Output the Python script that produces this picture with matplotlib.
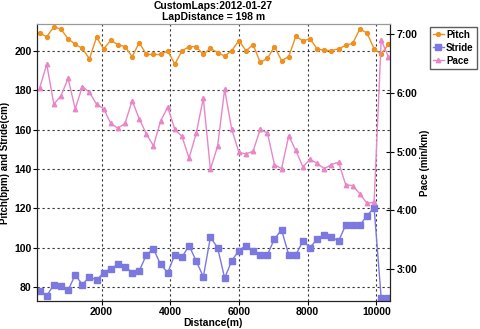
import matplotlib
matplotlib.use("Agg")
import matplotlib.pyplot as plt
from matplotlib.ticker import FuncFormatter

plt.rcParams['font.family'] = ['Liberation Sans', 'DejaVu Sans']

# lap end distances (m)
distance = [194, 401, 609, 816, 1023, 1231, 1438, 1645, 1852, 2060,
            2267, 2474, 2682, 2889, 3096, 3304, 3511, 3718, 3925, 4133,
            4340, 4547, 4755, 4962, 5169, 5377, 5584, 5791, 5998, 6206,
            6413, 6620, 6828, 7035, 7242, 7450, 7657, 7864, 8071, 8279,
            8486, 8693, 8901, 9108, 9315, 9523, 9730, 9937, 10144, 10352]

# pitch (bpm)
pitch = [209.2, 207.2, 212.3, 211.1, 206.2, 203.4, 201.3, 196.0, 207.0, 201.0,
         205.4, 203.2, 202.2, 197.1, 204.2, 198.2, 198.2, 198.2, 200.0, 193.3,
         200.0, 202.2, 202.2, 198.2, 201.3, 199.2, 197.4, 200.1, 205.3, 200.1,
         203.2, 194.2, 196.2, 202.2, 195.1, 197.1, 207.5, 205.1, 206.2, 201.0,
         200.3, 200.2, 201.1, 202.8, 203.9, 211.2, 209.1, 201.1, 198.4, 203.3]

# stride (cm)
stride = [78.1, 75.4, 81.2, 80.3, 78.3, 86.1, 81.2, 85.1, 83.4, 87.3,
          89.3, 91.4, 90.3, 87.3, 88.1, 96.3, 99.3, 91.4, 87.3, 96.3,
          95.1, 101.0, 93.2, 85.1, 105.2, 100.0, 84.5, 93.3, 98.5, 101.0,
          98.5, 96.3, 96.3, 104.4, 109.0, 96.3, 96.3, 103.3, 100.0, 104.4,
          106.4, 105.4, 103.3, 111.4, 111.4, 111.4, 116.2, 120.3, 74.3, 74.3]

# pace (min/km)
pace = [6.08, 6.49, 5.81, 5.95, 6.25, 5.73, 6.11, 6.01, 5.81, 5.73,
        5.48, 5.40, 5.48, 5.87, 5.56, 5.30, 5.10, 5.52, 5.76, 5.38,
        5.26, 4.89, 5.31, 5.91, 4.70, 5.09, 6.06, 5.38, 4.99, 4.96,
        5.01, 5.38, 5.32, 4.78, 4.71, 5.27, 5.02, 4.74, 4.87, 4.80,
        4.71, 4.78, 4.82, 4.44, 4.42, 4.28, 4.12, 4.14, 6.90, 6.62]

pitch_color = "#f0901e"
stride_color = "#7b78e0"
pace_color = "#e886c8"

fig = plt.figure(figsize=(4.8, 3.29), dpi=100)
ax = fig.add_axes([0.077, 0.085, 0.735, 0.842])
ax2 = ax.twinx()

l1, = ax.plot(distance, pitch, color=pitch_color, lw=1.0, marker='o', ms=2.8,
              mec=pitch_color, label='Pitch')
l2, = ax.plot(distance, stride, color=stride_color, lw=1.0, marker='s', ms=4.0,
              mec=stride_color, label='Stride')
l3, = ax2.plot(distance, pace, color=pace_color, lw=1.0, marker='^', ms=3.2,
               mec=pace_color, label='Pace')

ax.set_xlim(117, 10393)
ax.set_ylim(72.8, 213.7)
ax2.set_ylim(2.455, 7.175)

ax.set_xticks([2000, 4000, 6000, 8000, 10000])
ax.set_yticks([80, 100, 120, 140, 160, 180, 200])
ax2.set_yticks([3, 4, 5, 6, 7])
ax2.yaxis.set_major_formatter(FuncFormatter(lambda v, p: "%d:%02d" % (int(v), round((v - int(v)) * 60))))

ax.grid(True, color='#333333', linestyle=(0, (2, 2.5)), linewidth=0.8)

for a in (ax, ax2):
    a.tick_params(labelsize=7.5, length=3, width=0.8, pad=1)
    for lab in a.get_xticklabels() + a.get_yticklabels():
        lab.set_fontweight('bold')
ax2.tick_params(axis='y', direction='inout', length=6, pad=2)

ax.spines['top'].set_color('#999999')
ax2.spines['top'].set_color('#999999')
for s in ('left', 'bottom', 'right'):
    ax.spines[s].set_color('#222222')
    ax2.spines[s].set_color('#222222')

ax.set_xlabel('Distance(m)', fontsize=7.5, fontweight='bold', labelpad=1)
ax.set_ylabel('Pitch(bpm) and Stride(cm)', fontsize=7, fontweight='bold', labelpad=3)
ax2.set_ylabel('Pace (min/km)', fontsize=7, fontweight='bold', labelpad=2)
ax.set_title('CustomLaps:2012-01-27\nLapDistance = 198 m', fontsize=7.5,
             fontweight='bold', pad=3, linespacing=1.1)

leg = fig.legend(handles=[l1, l2, l3], loc='upper left', bbox_to_anchor=(0.896, 0.918),
                 frameon=True, fancybox=False, edgecolor='#333333',
                 handlelength=1.1, handletextpad=0.25, borderpad=0.3, labelspacing=0.3,
                 borderaxespad=0, prop={'weight': 'bold', 'size': 7})

fig.savefig('out.png', dpi=100)
